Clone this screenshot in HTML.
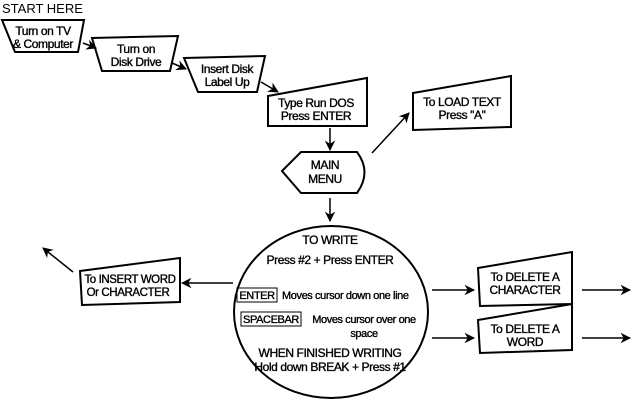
<!DOCTYPE html>
<html><head><style>
html,body{margin:0;padding:0;background:#fff;}
svg{display:block;}
text{font-family:"Liberation Sans",sans-serif;font-size:12px;fill:#000;stroke:#000;stroke-width:0.35;text-anchor:middle;letter-spacing:-0.4px;}
</style></head><body>
<svg width="635" height="400" viewBox="0 0 635 400" xmlns="http://www.w3.org/2000/svg">
<defs>
<marker id="a" viewBox="0 0 10 10" refX="9" refY="5" markerWidth="7" markerHeight="7" orient="auto"><path d="M0,0 L10,5 L0,10 L3,5 z" fill="#000"/></marker>
</defs>
<g fill="none" stroke="#000" stroke-width="2">
<path d="M2,20 L84,20 L78,52 L15,52 Z"/>
<path d="M92,38 L178,36 L170,71 L102,71 Z"/>
<path d="M184,58 L265,56 L257,92 L198,92 Z"/>
<path d="M268,96 L367,78 L367,126 L268,126 Z"/>
<path d="M413,93 L511,76 L511,127 L413,130 Z"/>
<path d="M282,171 L301,152 L357,152 Q372,172 357,193 L301,193 Z"/>
<ellipse cx="331" cy="312" rx="97" ry="86"/>
<path d="M80,271 L180,258 L180,302 L82,305 Z"/>
<path d="M478,268 L572,252 L572,304 L480,306 Z"/>
<path d="M478,320 L572,304 L572,350 L480,353 Z"/>
</g>
<g stroke="#000" stroke-width="1.5" fill="none" marker-end="url(#a)">
<line x1="83" y1="43" x2="96" y2="48"/>
<line x1="172" y1="63" x2="186" y2="69"/>
<line x1="261" y1="82" x2="278" y2="92"/>
<line x1="330" y1="128" x2="330" y2="150"/>
<line x1="372" y1="153" x2="409" y2="113"/>
<line x1="330" y1="198" x2="330" y2="221"/>
<line x1="233" y1="283" x2="182" y2="283"/>
<line x1="73" y1="272" x2="43" y2="248"/>
<line x1="432" y1="290" x2="474" y2="290"/>
<line x1="582" y1="290" x2="630" y2="290"/>
<line x1="432" y1="338" x2="474" y2="338"/>
<line x1="582" y1="338" x2="630" y2="338"/>
</g>
<text x="2" y="13" style="text-anchor:start;font-size:13px;stroke-width:0;letter-spacing:0">START HERE</text>
<text x="43" y="35">Turn on TV</text><text x="43" y="48">&amp; Computer</text>
<text x="136" y="53">Turn on</text><text x="136" y="66">Disk Drive</text>
<text x="227" y="73">Insert Disk</text><text x="227" y="86">Label Up</text>
<text x="316" y="107">Type Run DOS</text><text x="316" y="120">Press ENTER</text>
<text x="462" y="106">To LOAD TEXT</text><text x="462" y="119">Press "A"</text>
<text x="325" y="169">MAIN</text><text x="325" y="183">MENU</text>
<text x="330" y="244">TO WRITE</text>
<text x="330" y="264">Press #2 + Press ENTER</text>
<rect x="237" y="288" width="40" height="14" fill="none" stroke="#000" stroke-width="1"/>
<text x="257" y="299" style="font-size:11px">ENTER</text>
<text x="282" y="299" style="text-anchor:start;font-size:11px">Moves cursor down one line</text>
<rect x="241" y="312" width="60" height="14" fill="none" stroke="#000" stroke-width="1"/>
<text x="271" y="323" style="font-size:11px">SPACEBAR</text>
<text x="364" y="323" style="font-size:11px">Moves cursor over one</text>
<text x="364" y="337" style="font-size:11px">space</text>
<text x="330" y="357">WHEN FINISHED WRITING</text>
<text x="330" y="371">Hold down BREAK + Press #1</text>
<text x="130" y="283" style="font-size:11.5px">To INSERT WORD</text><text x="128" y="296" style="font-size:11.5px">Or CHARACTER</text>
<text x="525" y="281">To DELETE A</text><text x="525" y="294">CHARACTER</text>
<text x="525" y="333">To DELETE A</text><text x="525" y="346">WORD</text>
</svg>
</body></html>
